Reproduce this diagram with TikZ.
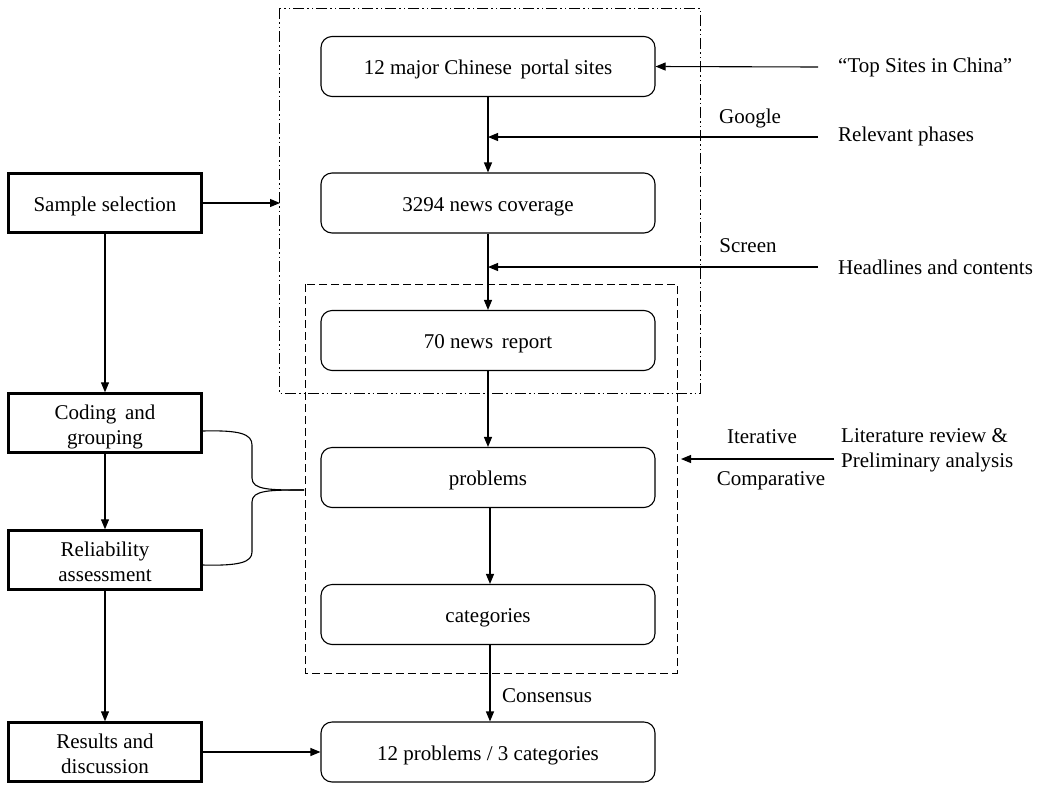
\documentclass[tikz,border=0pt]{standalone}
\usepackage{fontspec}
\setmainfont{Liberation Serif}
\usetikzlibrary{arrows.meta}
\begin{document}
\begin{tikzpicture}[x=1pt,y=-1pt,
  every node/.style={font=\fontsize{21}{24.5}\selectfont},
  onel/.style={text height=19pt, text depth=3pt},
  twol/.style={text height=42pt, text depth=0pt},
  rbox/.style={draw, line width=1.1pt, rounded corners=11pt, minimum width=334pt, minimum height=60pt, inner sep=0pt, onel},
  tbox/.style={draw, line width=2.4pt, minimum width=193pt, minimum height=59pt, inner sep=0pt, align=center},
  arr/.style={line width=1.1pt, -{Triangle[length=10pt,width=8pt]}},
  lbl/.style={inner sep=0pt, anchor=west},
  outerbox/.style={line width=0.9pt, dash pattern=on 11pt off 3pt on 1.5pt off 3pt on 1.5pt off 3pt},
  innerbox/.style={line width=0.9pt, dash pattern=on 8pt off 4pt},
  bracel/.style={line width=1.1pt}
]
\useasboundingbox (0,0) rectangle (1041,785);
% enclosures
\draw[outerbox] (279,8) rectangle (700,393);
\draw[innerbox] (305,284) rectangle (677,673);
% main column
\node[rbox] (b1) at (488,66.5) {12 major Chinese\, portal sites};
\node[rbox] (b2) at (488,203) {3294 news coverage};
\node[rbox] (b3) at (488,340.5) {70 news\, report};
\node[rbox] (b4) at (488,477.5) {problems};
\node[rbox] (b5) at (488,614.5) {categories};
\node[rbox] (b6) at (488,752) {12 problems / 3 categories};
\draw[arr] (b1.south) -- (b2.north);
\draw[arr] (b2.south) -- (b3.north);
\draw[arr] (b3.south) -- (b4.north);
\draw[arr] ([xshift=2pt]b4.south) -- ([xshift=2pt]b5.north);
\draw[arr] ([xshift=2pt]b5.south) -- ([xshift=2pt]b6.north);
% right-side inputs
\node[lbl] (t1) at (838,67) {\textquotedblleft Top Sites in China\textquotedblright};
\coordinate (s1) at (818,67);
\draw[arr] (s1) -- (b1.east);
\node[lbl] (t2) at (838,136) {Relevant phases};
\coordinate (s2) at (818,137);
\coordinate (e2) at (488,137);
\draw[arr] (s2) -- (e2);
\node (g) at (750,118) {Google};
\node[lbl] (t3) at (838,267) {Headlines and contents};
\coordinate (s3) at (818,267);
\coordinate (e3) at (488,267);
\draw[arr] (s3) -- (e3);
\node (sc) at (748,246) {Screen};
\node[lbl, align=left] (t4) at (841,450.5) {Literature review \&\\Preliminary analysis};
\coordinate (s4) at (834,459);
\coordinate (e4) at (681,459);
\draw[arr] (s4) -- (e4);
\node (it) at (762,437) {Iterative};
\node (cp) at (771,481) {Comparative};
\node (cs) at (547,696) {Consensus};
% left column
\node[tbox, onel] (l1) at (105,203) {Sample selection};
\node[tbox, twol] (l2) at (105,423) {Coding\, and\\grouping};
\node[tbox, twol] (l3) at (105,560) {Reliability\\assessment};
\node[tbox, twol] (l4) at (105,752) {Results and\\discussion};
\draw[arr] (l1.south) -- (l2.north);
\draw[arr] (l2.south) -- (l3.north);
\draw[arr] (l3.south) -- (l4.north);
\coordinate (o1) at (280,203);
\draw[arr] (l1.east) -- (o1);
\draw[arr] (l4.east) -- (b6.west);
% brace
\coordinate (tip) at (304,490);
\draw[bracel] (l2.east |- 0,431) .. controls (240,430) and (252,434) .. (252,445)
  -- (252,478) .. controls (252,490) and (270,490) .. (tip);
\draw[bracel] (l3.east |- 0,565) .. controls (240,566) and (252,562) .. (252,552)
  -- (252,502) .. controls (252,490) and (270,490) .. (tip);
\end{tikzpicture}
\end{document}
